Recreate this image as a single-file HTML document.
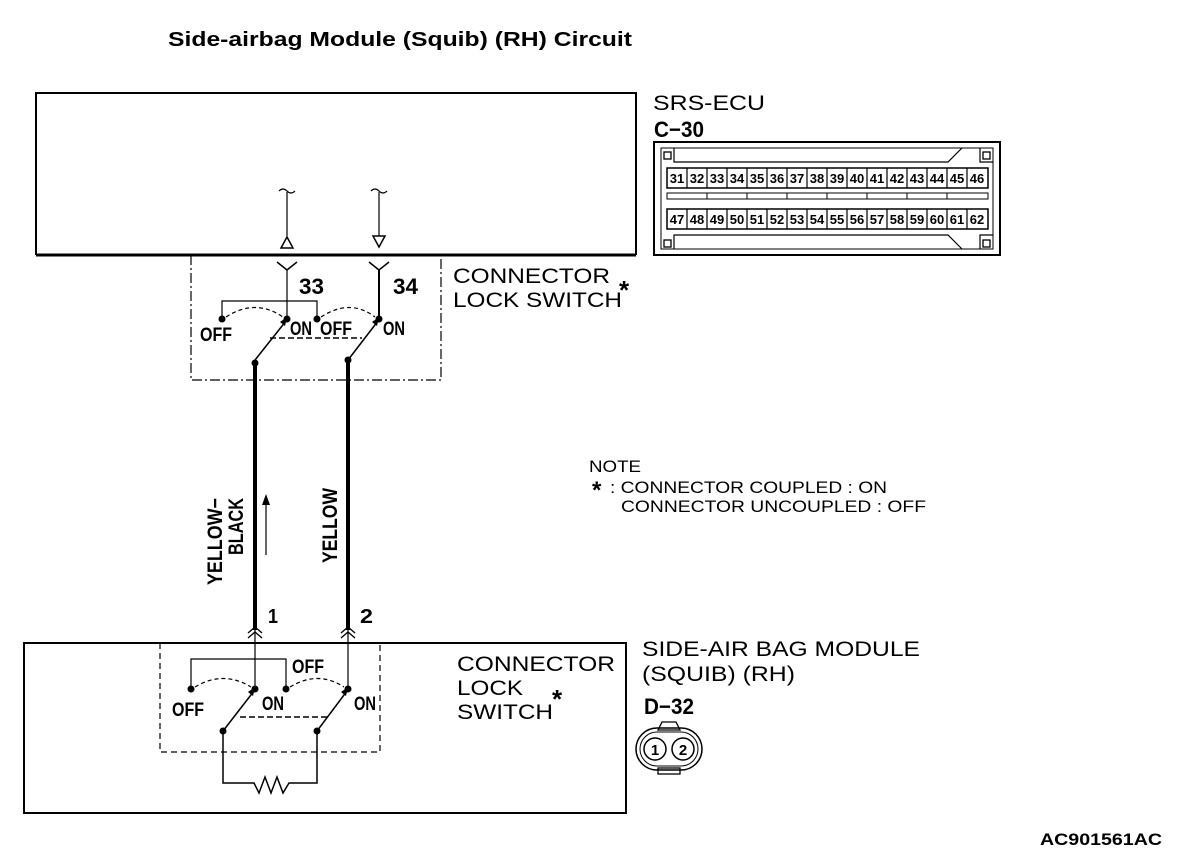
<!DOCTYPE html>
<html><head><meta charset="utf-8"><style>body{margin:0;background:#fff}svg{display:block}</style></head><body>
<svg width="1200" height="866" viewBox="0 0 1200 866" xmlns="http://www.w3.org/2000/svg" font-family="Liberation Sans, sans-serif">
<rect width="1200" height="866" fill="#fff"/>
<text x="168" y="46" font-size="20" font-weight="bold" textLength="464" lengthAdjust="spacingAndGlyphs">Side-airbag Module (Squib) (RH) Circuit</text>
<g stroke="#000" fill="none">
<path d="M36 255 V93 H636 V255" stroke-width="2"/>
<line x1="36" y1="255" x2="636" y2="255" stroke-width="3"/>
<path d="M191 255 V380 H441 V255" stroke-width="1.2" stroke-dasharray="10,3,2,3"/>
<path d="M279 191 q4 -4 8 0 q4 4 8 0" stroke-width="1.2"/>
<path d="M371 191 q4 -4 8 0 q4 4 8 0" stroke-width="1.2"/>
<line x1="287" y1="192" x2="287" y2="236" stroke-width="1.2"/>
<path d="M281 248 L287 237 L293 248 Z" stroke-width="1.5"/>
<line x1="379" y1="192" x2="379" y2="236" stroke-width="1.2"/>
<path d="M373 236 L385 236 L379 247 Z" stroke-width="1.5"/>
<path d="M277 262 L287 270 L297 262" stroke-width="1.5"/>
<path d="M369 262 L379 270 L389 262" stroke-width="1.5"/>
<line x1="287" y1="270" x2="287" y2="319" stroke-width="1.2"/>
<line x1="379" y1="270" x2="379" y2="319" stroke-width="2"/>
<path d="M222 319 V301 H317 V319" stroke-width="1.2"/>
<path d="M226 317 Q255 298 283 317" stroke-width="1.2" stroke-dasharray="4,3"/>
<path d="M321 317 Q350 298 375 317" stroke-width="1.2" stroke-dasharray="4,3"/>
<line x1="270" y1="338" x2="362" y2="338" stroke-width="1.5" stroke-dasharray="6,3"/>
<line x1="255" y1="360" x2="286" y2="321" stroke-width="1.5"/>
<line x1="348" y1="360" x2="378" y2="321" stroke-width="1.5"/>
<line x1="255" y1="360" x2="255" y2="630" stroke-width="4"/>
<line x1="348" y1="360" x2="348" y2="630" stroke-width="4"/>
<line x1="266" y1="555" x2="266" y2="500" stroke-width="1.2"/>
<rect x="24" y="643" width="602" height="170" stroke-width="2"/>
<path d="M160 643 V752 H380 V643" stroke-width="1.2" stroke-dasharray="6,4"/>
<line x1="255" y1="625" x2="255" y2="689" stroke-width="1.2"/>
<line x1="348" y1="625" x2="348" y2="689" stroke-width="1.2"/>
<path d="M248 633 L255 627 L262 633 M248 638 L255 632 L262 638" stroke-width="1.3"/>
<path d="M341 633 L348 627 L355 633 M341 638 L348 632 L355 638" stroke-width="1.3"/>
<path d="M191 689 V659 H286 V689" stroke-width="1.2"/>
<path d="M195 687 Q223 670 251 687" stroke-width="1.2" stroke-dasharray="4,3"/>
<path d="M290 687 Q318 670 344 687" stroke-width="1.2" stroke-dasharray="4,3"/>
<line x1="240" y1="717" x2="330" y2="717" stroke-width="1.5" stroke-dasharray="6,3"/>
<line x1="223" y1="731" x2="254" y2="691" stroke-width="1.5"/>
<line x1="317" y1="731" x2="347" y2="691" stroke-width="1.5"/>
<path d="M223 731 V783 H254 L259 793 L265 777 L271 793 L277 777 L283 793 L289 783 H317 V731" stroke-width="1.5"/>
<rect x="654" y="142" width="346" height="113" stroke-width="2"/>
<path d="M661 148 H993 V249 H661 Z" stroke-width="1"/>
<path d="M674 148 V162 H948 L962 148" stroke-width="1.2"/>
<path d="M674 249 V235 H948 L962 249" stroke-width="1.2"/>
<path d="M980 148 V162 H993" stroke-width="1.2"/>
<path d="M980 249 V235 H993" stroke-width="1.2"/>
<rect x="664" y="152" width="7" height="7" stroke-width="1.3"/>
<rect x="664" y="240" width="7" height="7" stroke-width="1.3"/>
<rect x="983" y="152" width="7" height="7" stroke-width="1.3"/>
<rect x="983" y="240" width="7" height="7" stroke-width="1.3"/>
<rect x="667" y="168" width="321" height="20" stroke-width="1.5"/>
<rect x="667" y="209" width="321" height="20" stroke-width="1.5"/>
<rect x="667" y="193" width="321" height="6" stroke-width="1"/>
<path d="M707 193v6M747 193v6M787 193v6M827 193v6M867 193v6M907 193v6M947 193v6" stroke-width="1"/>
<path d="M687 168v20M707 168v20M727 168v20M747 168v20M767 168v20M787 168v20M807 168v20M827 168v20M847 168v20M867 168v20M887 168v20M907 168v20M927 168v20M947 168v20M967 168v20" stroke-width="1.2"/>
<path d="M687 209v20M707 209v20M727 209v20M747 209v20M767 209v20M787 209v20M807 209v20M827 209v20M847 209v20M867 209v20M887 209v20M907 209v20M927 209v20M947 209v20M967 209v20" stroke-width="1.2"/>
<rect x="658" y="768" width="22" height="6" stroke-width="1.3"/>
<path d="M662 722 H676 L680 730 H658 Z" stroke-width="1.3"/>
<rect x="636" y="728" width="66" height="42" rx="21" stroke-width="1.5"/>
<rect x="640" y="732" width="58" height="34" rx="17" stroke-width="1"/>
<circle cx="655" cy="749" r="11" stroke-width="1.5"/>
<circle cx="683" cy="749" r="11" stroke-width="1.5"/>
</g>
<g fill="#000">
<circle cx="222" cy="319" r="3.5"/><circle cx="287" cy="319" r="3.5"/><circle cx="317" cy="319" r="3.5"/><circle cx="379" cy="319" r="3.5"/>
<circle cx="255" cy="363" r="3.5"/><circle cx="348" cy="360" r="3.5"/>
<path d="M280 322 L287 317 L285 326 Z"/><path d="M372 322 L379 317 L377 326 Z"/>
<path d="M262 505 L266 494 L270 505 Z"/>
<circle cx="191" cy="689" r="3.5"/><circle cx="255" cy="689" r="3.5"/><circle cx="286" cy="689" r="3.5"/><circle cx="348" cy="689" r="3.5"/>
<circle cx="223" cy="731" r="3.5"/><circle cx="317" cy="731" r="3.5"/>
<path d="M248 692 L255 687 L253 696 Z"/><path d="M341 692 L348 687 L346 696 Z"/>
</g>
<g font-weight="bold" font-size="22">
<text x="299" y="294" textLength="25" lengthAdjust="spacingAndGlyphs">33</text>
<text x="393" y="294" textLength="25" lengthAdjust="spacingAndGlyphs">34</text>
<text x="200" y="341" font-size="19" textLength="32" lengthAdjust="spacingAndGlyphs">OFF</text>
<text x="290" y="335" font-size="19" textLength="22" lengthAdjust="spacingAndGlyphs">ON</text>
<text x="320" y="335" font-size="19" textLength="32" lengthAdjust="spacingAndGlyphs">OFF</text>
<text x="383" y="335" font-size="19" textLength="22" lengthAdjust="spacingAndGlyphs">ON</text>
<text x="172" y="716" font-size="19" textLength="32" lengthAdjust="spacingAndGlyphs">OFF</text>
<text x="262" y="710" font-size="19" textLength="22" lengthAdjust="spacingAndGlyphs">ON</text>
<text x="292" y="673" font-size="19" textLength="32" lengthAdjust="spacingAndGlyphs">OFF</text>
<text x="354" y="710" font-size="19" textLength="22" lengthAdjust="spacingAndGlyphs">ON</text>
<text x="268" y="623" font-size="20" textLength="10" lengthAdjust="spacingAndGlyphs">1</text>
<text x="360" y="623" font-size="20" textLength="13" lengthAdjust="spacingAndGlyphs">2</text>
<text x="654" y="137" textLength="50" lengthAdjust="spacingAndGlyphs">C−30</text>
<text x="644" y="714" textLength="50" lengthAdjust="spacingAndGlyphs">D−32</text>
<text transform="translate(222,585) rotate(-90)" font-size="21" textLength="87" lengthAdjust="spacingAndGlyphs">YELLOW−</text>
<text transform="translate(243,555) rotate(-90)" font-size="21" textLength="57" lengthAdjust="spacingAndGlyphs">BLACK</text>
<text transform="translate(337,563) rotate(-90)" font-size="21" textLength="75" lengthAdjust="spacingAndGlyphs">YELLOW</text>
<text x="1040" y="845" font-size="17" textLength="122" lengthAdjust="spacingAndGlyphs">AC901561AC</text>
</g>
<g font-size="21">
<text x="653" y="110" textLength="112" lengthAdjust="spacingAndGlyphs">SRS-ECU</text>
<text x="453" y="283" textLength="157" lengthAdjust="spacingAndGlyphs">CONNECTOR</text>
<text x="453" y="307" textLength="169" lengthAdjust="spacingAndGlyphs">LOCK SWITCH</text>
<text x="619" y="299" font-size="26" font-weight="bold">*</text>
<text x="457" y="671" textLength="158" lengthAdjust="spacingAndGlyphs">CONNECTOR</text>
<text x="457" y="695" textLength="66" lengthAdjust="spacingAndGlyphs">LOCK</text>
<text x="457" y="719" textLength="96" lengthAdjust="spacingAndGlyphs">SWITCH</text>
<text x="552" y="708" font-size="26" font-weight="bold">*</text>
<text x="642" y="656" textLength="278" lengthAdjust="spacingAndGlyphs">SIDE-AIR BAG MODULE</text>
<text x="642" y="681" textLength="153" lengthAdjust="spacingAndGlyphs">(SQUIB) (RH)</text>
</g>
<g font-size="17">
<text x="589" y="472" textLength="52" lengthAdjust="spacingAndGlyphs">NOTE</text>
<text x="592" y="498" font-size="24" font-weight="bold">*</text>
<text x="610" y="493" textLength="277" lengthAdjust="spacingAndGlyphs">: CONNECTOR COUPLED : ON</text>
<text x="621" y="512" textLength="305" lengthAdjust="spacingAndGlyphs">CONNECTOR UNCOUPLED : OFF</text>
</g>
<g font-size="13" font-weight="bold" text-anchor="middle">
<text x="677" y="183">31</text><text x="697" y="183">32</text><text x="717" y="183">33</text><text x="737" y="183">34</text><text x="757" y="183">35</text><text x="777" y="183">36</text><text x="797" y="183">37</text><text x="817" y="183">38</text><text x="837" y="183">39</text><text x="857" y="183">40</text><text x="877" y="183">41</text><text x="897" y="183">42</text><text x="917" y="183">43</text><text x="937" y="183">44</text><text x="957" y="183">45</text><text x="977" y="183">46</text>
<text x="677" y="224">47</text><text x="697" y="224">48</text><text x="717" y="224">49</text><text x="737" y="224">50</text><text x="757" y="224">51</text><text x="777" y="224">52</text><text x="797" y="224">53</text><text x="817" y="224">54</text><text x="837" y="224">55</text><text x="857" y="224">56</text><text x="877" y="224">57</text><text x="897" y="224">58</text><text x="917" y="224">59</text><text x="937" y="224">60</text><text x="957" y="224">61</text><text x="977" y="224">62</text>
<text x="655" y="755" font-size="15">1</text><text x="683" y="755" font-size="15">2</text>
</g>
</svg>
</body></html>
